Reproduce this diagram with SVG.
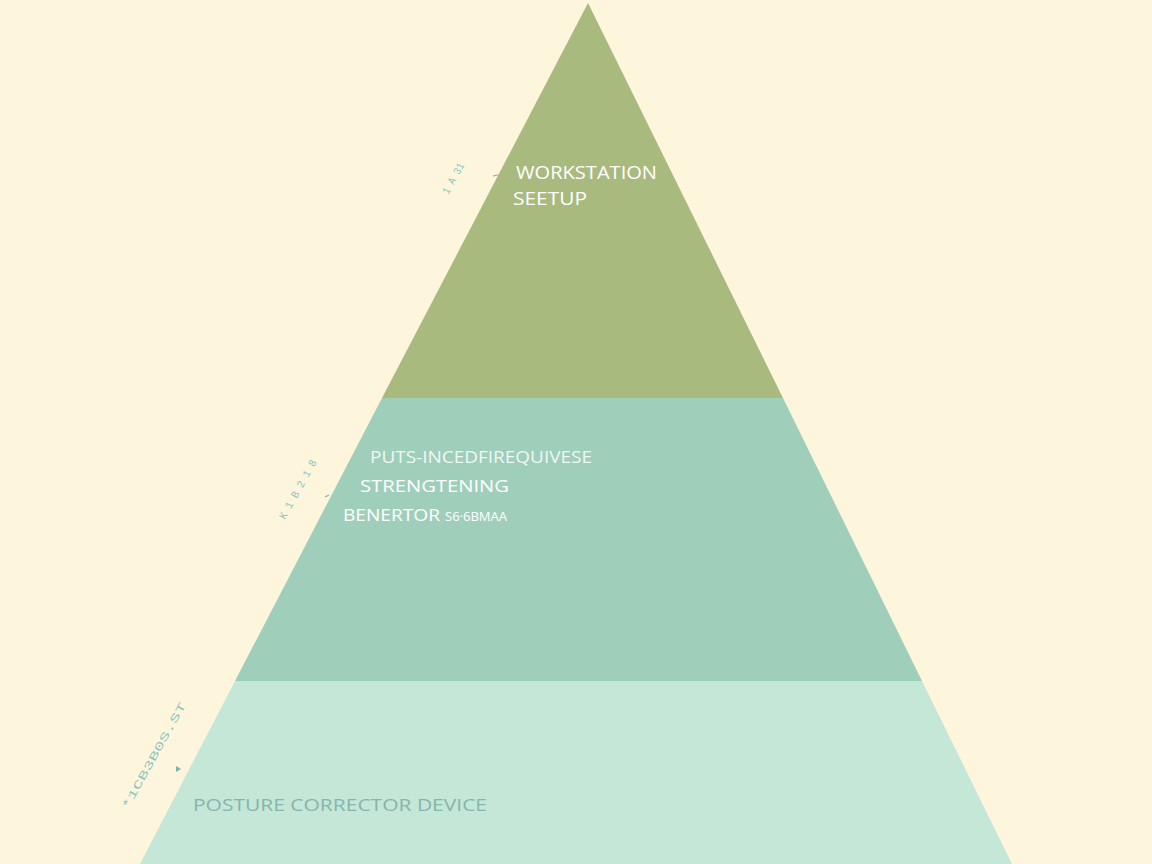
<svg xmlns="http://www.w3.org/2000/svg" width="1152" height="864" viewBox="0 0 1152 864">
<style>
.lbl{font-family:"Open Sans","Liberation Sans",sans-serif;fill:#ffffff;}
.tick{font-family:"Liberation Mono","DejaVu Sans Mono",monospace;fill:#8cc6c2;font-size:11px;}
.mark{stroke:#7fb3a6;stroke-width:1.2;fill:none;}
</style>
<rect width="1152" height="864" fill="#fdf5dc"/>
<g id="tier-top">
<polygon points="588,3 783,398 382,398" fill="#a9ba7f"/>
<text class="lbl" x="516" y="179" font-size="18" textLength="141" lengthAdjust="spacingAndGlyphs">WORKSTATION</text>
<text class="lbl" x="513" y="205" font-size="18" textLength="74" lengthAdjust="spacingAndGlyphs">SEETUP</text>
</g>
<g id="tier-middle">
<polygon points="382,398 783,398 922,681 235,681" fill="#9fcfbb"/>
<text class="lbl" x="370" y="463" font-size="16" fill-opacity="0.85" textLength="222" lengthAdjust="spacingAndGlyphs">PUTS-INCEDFIREQUIVESE</text>
<text class="lbl" x="360" y="492" font-size="17" textLength="149" lengthAdjust="spacingAndGlyphs">STRENGTENING</text>
<text class="lbl" x="343" y="521" font-size="17" textLength="97" lengthAdjust="spacingAndGlyphs">BENERTOR</text>
<text class="lbl" x="445" y="521" font-size="12" textLength="62" lengthAdjust="spacingAndGlyphs">S6·6BMAA</text>
</g>
<g id="tier-bottom">
<polygon points="235,681 922,681 1012,864 140,864" fill="#c4e7d7"/>
<text class="lbl" x="193" y="811" font-size="17" style="fill:#86b5ad" textLength="294" lengthAdjust="spacingAndGlyphs">POSTURE CORRECTOR DEVICE</text>
</g>
<g id="side-labels">
<text class="tick" transform="translate(448,195) rotate(-61)" textLength="34" lengthAdjust="spacingAndGlyphs">1 A 31</text>
<text class="tick" transform="translate(285,520) rotate(-61)" textLength="66" lengthAdjust="spacingAndGlyphs">K 1 B 2 1 8</text>
<text class="tick" transform="translate(128,810) rotate(-61)" textLength="120" lengthAdjust="spacingAndGlyphs">*1CB3B0S.ST</text>
</g>
<g id="connectors">
<path class="mark" d="M493,176 L498,175"/>
<path class="mark" d="M325,497 L329,495"/>
<path d="M176,766 L181,769 L176,772 Z" fill="#7fb3a6"/>
</g>
</svg>
